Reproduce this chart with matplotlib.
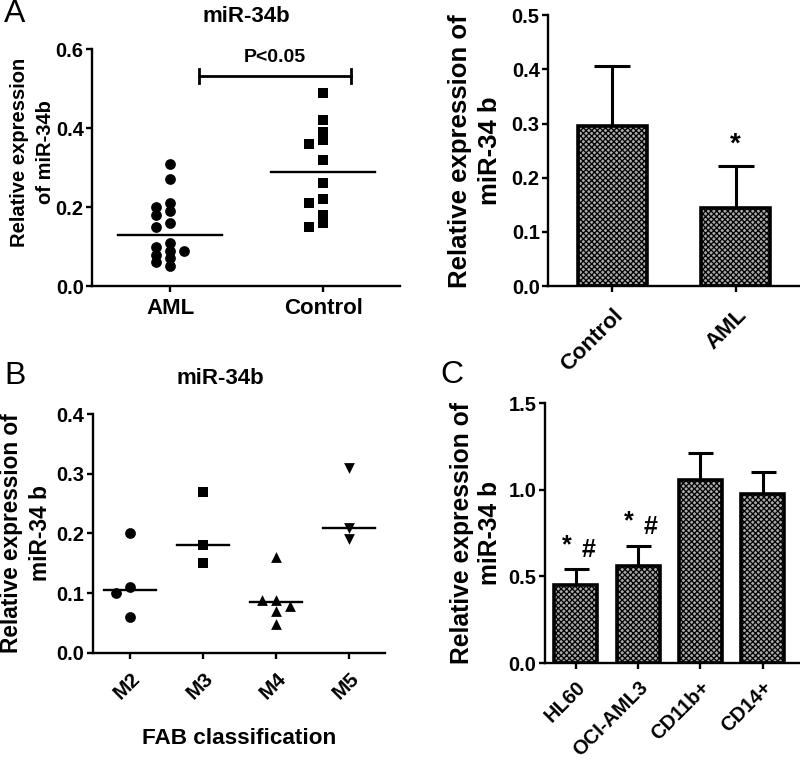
import numpy as np
import matplotlib.pyplot as plt

plt.rcParams['font.family'] = ['Liberation Sans', 'DejaVu Sans']
plt.rcParams['font.weight'] = 'bold'
plt.rcParams['hatch.linewidth'] = 0.9

# panel A (scatter)
aml_vals = [0.31, 0.27, 0.21, 0.20, 0.19, 0.18, 0.16, 0.15, 0.11, 0.10, 0.09, 0.09, 0.08, 0.07, 0.06, 0.05]
ctrl_vals = [0.49, 0.42, 0.39, 0.37, 0.36, 0.32, 0.26, 0.22, 0.21, 0.18, 0.16, 0.15]
aml_mid = 0.13
ctrl_mid = 0.29

# panel A (bars)
bar_groups = ['Control', 'AML']
bar_means = [0.295, 0.145]
bar_sem = [0.112, 0.077]

# panel B
fab_groups = ['M2', 'M3', 'M4', 'M5']
fab_vals = [[0.20, 0.11, 0.10, 0.06],
            [0.27, 0.18, 0.15],
            [0.16, 0.089, 0.089, 0.078, 0.07, 0.049],
            [0.31, 0.21, 0.19]]
fab_mid = [0.105, 0.18, 0.085, 0.21]
fab_markers = ['o', 's', '^', 'v']

# panel C
cell_groups = ['HL60', 'OCI-AML3', 'CD11b+', 'CD14+']
cell_means = [0.45, 0.56, 1.055, 0.973]
cell_sem = [0.09, 0.115, 0.157, 0.13]


def swarm(vals, tol):
    # greedy column layout: nudge points sideways when they sit too close
    placed = []
    offs = []
    for v in vals:
        for k in [0, -1, 1, -2, 2, -3, 3]:
            if all(abs(v - pv) >= tol for pv, pk in placed if pk == k):
                break
        placed.append((v, k))
        offs.append(k)
    return np.array(offs)


def style(ax, xsize=15, xpad=6):
    for s in ['top', 'right']:
        ax.spines[s].set_visible(False)
    for s in ['left', 'bottom']:
        ax.spines[s].set_linewidth(1.7)
    ax.tick_params(width=1.7, length=4.5)
    ax.tick_params(axis='y', labelsize=14.5, pad=1.5)
    ax.tick_params(axis='x', labelsize=xsize, pad=xpad)
    for lab in ax.get_xticklabels() + ax.get_yticklabels():
        lab.set_fontweight('bold')


def bars(ax, means, sem, width, cap):
    x = np.arange(len(means))
    ax.bar(x, means, width=width, color='#a8a8a8', edgecolor='black', linewidth=2.6,
           hatch='xxxxxx', zorder=2)
    ax.errorbar(x, means, yerr=[np.zeros(len(sem)), sem], fmt='none', ecolor='black',
                elinewidth=2.2, capsize=cap, capthick=2.2, zorder=1)


fig = plt.figure(figsize=(8, 7.63), dpi=100)

# ---- A left ----
ax1 = fig.add_axes([0.115, 0.625, 0.385, 0.3106])
for i, (vals, mid, mk, sz) in enumerate([(aml_vals, aml_mid, 'o', 60), (ctrl_vals, ctrl_mid, 's', 48)]):
    off = swarm(vals, 0.015) * 0.092
    ax1.scatter(i + off, vals, marker=mk, s=sz, color='black', zorder=3, linewidths=0)
    ax1.plot([i - 0.34, i + 0.34], [mid, mid], color='black', lw=1.7)
ax1.set_xlim(-0.51, 1.5)
ax1.set_ylim(0, 0.6)
ax1.set_yticks([0.0, 0.2, 0.4, 0.6])
ax1.set_xticks([0, 1])
ax1.set_xticklabels(['AML', 'Control'])
style(ax1, 16, 4)
ax1.plot([0.19, 1.18], [0.532, 0.532], color='black', lw=2)
ax1.plot([0.19, 0.19], [0.515, 0.549], color='black', lw=2)
ax1.plot([1.18, 1.18], [0.515, 0.549], color='black', lw=2)
ax1.text(0.685, 0.58, 'P<0.05', ha='center', va='center', fontsize=14, fontweight='bold')
ax1.set_ylabel('Relative expression\nof miR-34b', fontsize=14.5, fontweight='bold', linespacing=1.45)
ax1.yaxis.set_label_coords(-0.12, 0.565)
fig.text(246 / 800, 1 - 17 / 763, 'miR-34b', ha='center', va='center', fontsize=16, fontweight='bold')

# ---- A right ----
ax2 = fig.add_axes([0.685, 0.625, 0.315, 0.355])
bars(ax2, bar_means, bar_sem, 0.56, 13)
ax2.text(1, bar_means[1] + bar_sem[1] + 0.04, '*', ha='center', va='center', fontsize=20, fontweight='bold')
ax2.set_xlim(-0.52, 1.52)
ax2.set_ylim(0, 0.5)
ax2.set_yticks([0.0, 0.1, 0.2, 0.3, 0.4, 0.5])
ax2.set_xticks([0, 1])
ax2.set_xticklabels(bar_groups, rotation=45, ha='right', rotation_mode='anchor')
style(ax2, 16, 9)
ax2.set_ylabel('Relative expression of\nmiR-34 b', fontsize=18.5, fontweight='bold', linespacing=1.3)
ax2.yaxis.set_label_coords(-0.183, 0.5)

# ---- B ----
ax3 = fig.add_axes([0.116, 0.1442, 0.365, 0.3132])
for i, (vals, mid, mk) in enumerate(zip(fab_vals, fab_mid, fab_markers)):
    off = swarm(vals, 0.015) * 0.196
    ax3.scatter(i + off, vals, marker=mk, s=60, color='black', zorder=3, linewidths=0)
    ax3.plot([i - 0.35, i + 0.35], [mid, mid], color='black', lw=1.7)
ax3.set_xlim(-0.51, 3.49)
ax3.set_ylim(0, 0.4)
ax3.set_yticks([0.0, 0.1, 0.2, 0.3, 0.4])
ax3.set_xticks(range(4))
ax3.set_xticklabels(fab_groups, rotation=45, ha='right', rotation_mode='anchor')
style(ax3, 15, 7)
ax3.set_xlabel('FAB classification', fontsize=16.2, fontweight='bold', labelpad=18)
ax3.set_ylabel('Relative expression of\nmiR-34 b', fontsize=16.3, fontweight='bold', linespacing=1.33)
ax3.yaxis.set_label_coords(-0.14, 0.5)
fig.text(220 / 800, 1 - 379 / 763, 'miR-34b', ha='center', va='center', fontsize=16, fontweight='bold')

# ---- C ----
ax4 = fig.add_axes([0.681, 0.131, 0.319, 0.3408])
bars(ax4, cell_means, cell_sem, 0.69, 9)
for i in range(2):
    top = cell_means[i] + cell_sem[i]
    ax4.text(i - 0.15, top + 0.14, '*', ha='center', va='center', fontsize=18)
    ax4.text(i + 0.2, top + 0.11, '#', ha='center', va='center', fontsize=18)
ax4.set_xlim(-0.5, 3.6)
ax4.set_ylim(0, 1.5)
ax4.set_yticks([0.0, 0.5, 1.0, 1.5])
ax4.set_xticks(range(4))
ax4.set_xticklabels(cell_groups, rotation=45, ha='right', rotation_mode='anchor')
style(ax4, 14.5, 6)
ax4.set_ylabel('Relative expression of\nmiR-34 b', fontsize=17.7, fontweight='bold', linespacing=1.2)
ax4.yaxis.set_label_coords(-0.169, 0.5)

# panel letters
for lx, ly, letter in [(4, 14, 'A'), (4, 376, 'B'), (440, 375, 'C')]:
    fig.text(lx / 800, 1 - ly / 763, letter, ha='left', va='center', fontsize=23, fontweight='normal')

fig.savefig('out.png', dpi=100)
